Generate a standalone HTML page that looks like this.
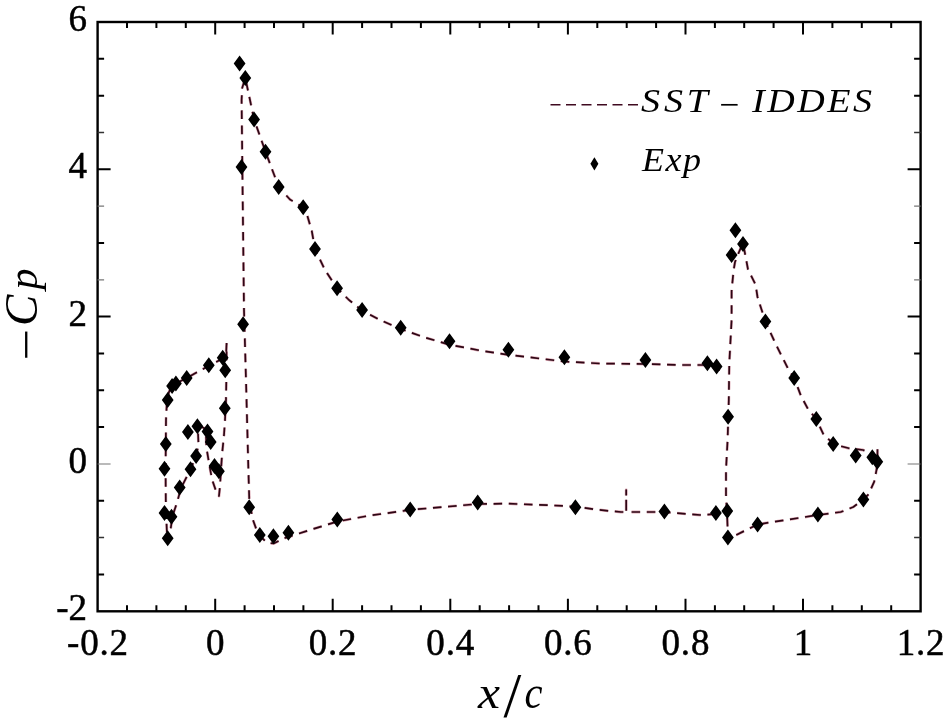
<!DOCTYPE html>
<html lang="en"><head><meta charset="utf-8"><title>Cp distribution</title>
<style>
html,body{margin:0;padding:0;background:#fff;}
body{width:949px;height:723px;overflow:hidden;font-family:"Liberation Serif",serif;}
svg{display:block;filter:blur(0.45px);}
.tl{font-family:"Liberation Serif",serif;font-size:37px;fill:#000;stroke:#000;stroke-width:0.5px;}
.it{font-family:"Liberation Serif",serif;font-style:italic;fill:#000;}
</style></head><body>
<svg width="949" height="723" viewBox="0 0 949 723">
<rect width="949" height="723" fill="#fff"/>

<g fill="none" stroke-linejoin="round">
<polyline points="226.6,343.0 226.2,352.0 222.7,358.5 208.8,365.8 186.7,378.0 176.0,383.5 172.0,386.0 169.0,392.0 167.0,400.0 166.0,420.0 165.8,444.0 165.6,470.0 165.8,500.0 166.2,515.0 166.8,530.0 167.7,541.0 170.5,530.0 172.5,516.0 177.2,502.0 181.0,488.0 190.5,469.3 196.1,456.0 198.5,445.0 198.0,432.0 199.0,426.0 204.0,428.0 206.0,436.0 206.5,448.0 208.8,461.7 212.0,479.4 216.0,491.0 219.0,496.0 220.0,486.0 221.0,470.0 222.0,455.0 224.0,435.0 225.0,420.0 226.0,400.0 226.5,370.0 226.6,343.0" stroke="#a8203f" stroke-opacity="0.4" stroke-width="2.8" stroke-dasharray="8.6 6.6"/>
<polyline points="226.6,343.0 226.2,352.0 222.7,358.5 208.8,365.8 186.7,378.0 176.0,383.5 172.0,386.0 169.0,392.0 167.0,400.0 166.0,420.0 165.8,444.0 165.6,470.0 165.8,500.0 166.2,515.0 166.8,530.0 167.7,541.0 170.5,530.0 172.5,516.0 177.2,502.0 181.0,488.0 190.5,469.3 196.1,456.0 198.5,445.0 198.0,432.0 199.0,426.0 204.0,428.0 206.0,436.0 206.5,448.0 208.8,461.7 212.0,479.4 216.0,491.0 219.0,496.0 220.0,486.0 221.0,470.0 222.0,455.0 224.0,435.0 225.0,420.0 226.0,400.0 226.5,370.0 226.6,343.0" stroke="#2c0614" stroke-width="1.7" stroke-dasharray="8.6 6.6"/>
<polyline points="716.0,514.0 700.0,515.0 664.0,512.0 626.2,512.0 626.2,490.0 626.2,512.0 621.0,512.0 599.0,509.9 575.0,506.5 550.0,505.3 508.0,503.6 477.7,504.0 449.0,506.5 410.0,509.9 400.0,511.4 370.0,515.5 337.3,521.5 310.0,530.0 283.8,538.4 273.7,543.5 267.0,542.6 262.0,538.0 256.9,530.8 252.6,519.0 249.3,500.0 248.4,470.0 246.0,380.0 244.0,310.0 242.6,190.0 241.6,100.0 242.2,88.0 245.3,78.0 250.0,100.0 254.1,119.6 265.5,151.7 278.7,187.1 290.0,199.5 303.2,207.3 307.4,216.0 311.8,231.0 315.0,249.0 325.0,270.0 337.1,288.2 349.0,300.0 362.1,310.5 380.0,320.0 400.7,329.0 425.0,337.5 449.5,344.7 480.0,350.5 508.4,354.8 564.4,361.5 600.0,363.5 645.0,364.0 680.0,365.0 707.0,365.0 720.0,370.0" stroke="#a8203f" stroke-opacity="0.4" stroke-width="2.8" stroke-dasharray="8.6 6.6"/>
<polyline points="716.0,514.0 700.0,515.0 664.0,512.0 626.2,512.0 626.2,490.0 626.2,512.0 621.0,512.0 599.0,509.9 575.0,506.5 550.0,505.3 508.0,503.6 477.7,504.0 449.0,506.5 410.0,509.9 400.0,511.4 370.0,515.5 337.3,521.5 310.0,530.0 283.8,538.4 273.7,543.5 267.0,542.6 262.0,538.0 256.9,530.8 252.6,519.0 249.3,500.0 248.4,470.0 246.0,380.0 244.0,310.0 242.6,190.0 241.6,100.0 242.2,88.0 245.3,78.0 250.0,100.0 254.1,119.6 265.5,151.7 278.7,187.1 290.0,199.5 303.2,207.3 307.4,216.0 311.8,231.0 315.0,249.0 325.0,270.0 337.1,288.2 349.0,300.0 362.1,310.5 380.0,320.0 400.7,329.0 425.0,337.5 449.5,344.7 480.0,350.5 508.4,354.8 564.4,361.5 600.0,363.5 645.0,364.0 680.0,365.0 707.0,365.0 720.0,370.0" stroke="#2c0614" stroke-width="1.7" stroke-dasharray="8.6 6.6"/>
<polyline points="757.6,524.4 728.0,539.0 727.3,520.0 726.0,495.0 726.0,470.0 727.6,440.0 728.8,400.0 729.3,363.0 730.0,350.0 731.6,320.0 731.6,291.0 733.5,271.0 735.0,262.0 739.0,252.0 743.0,243.0 748.0,269.4 755.6,284.6 757.5,297.0 765.4,321.6 775.9,344.4 788.5,369.6 794.2,378.0 801.0,396.0 808.0,409.0 816.3,419.0 824.0,435.5 833.0,443.0 840.0,446.0 849.0,448.3 863.0,450.0 869.0,452.5 874.0,457.0 877.4,462.0 877.5,446.5 877.4,462.0 876.5,470.0 874.2,481.7 868.5,494.4 863.4,499.4 853.3,507.0 840.7,512.0 818.0,515.0 780.0,520.9 757.6,524.4" stroke="#a8203f" stroke-opacity="0.4" stroke-width="2.8" stroke-dasharray="8.6 6.6"/>
<polyline points="757.6,524.4 728.0,539.0 727.3,520.0 726.0,495.0 726.0,470.0 727.6,440.0 728.8,400.0 729.3,363.0 730.0,350.0 731.6,320.0 731.6,291.0 733.5,271.0 735.0,262.0 739.0,252.0 743.0,243.0 748.0,269.4 755.6,284.6 757.5,297.0 765.4,321.6 775.9,344.4 788.5,369.6 794.2,378.0 801.0,396.0 808.0,409.0 816.3,419.0 824.0,435.5 833.0,443.0 840.0,446.0 849.0,448.3 863.0,450.0 869.0,452.5 874.0,457.0 877.4,462.0 877.5,446.5 877.4,462.0 876.5,470.0 874.2,481.7 868.5,494.4 863.4,499.4 853.3,507.0 840.7,512.0 818.0,515.0 780.0,520.9 757.6,524.4" stroke="#2c0614" stroke-width="1.7" stroke-dasharray="8.6 6.6"/>
</g>
<rect x="97.6" y="22.0" width="823.0" height="589.3" fill="none" stroke="#000" stroke-width="2.4"/>
<path d="M127.0 611.3v-6M127.0 22.0v6M156.4 611.3v-6M156.4 22.0v6M185.8 611.3v-6M185.8 22.0v6M215.2 611.3v-12.5M215.2 22.0v12.5M244.6 611.3v-6M244.6 22.0v6M274.0 611.3v-6M274.0 22.0v6M303.4 611.3v-6M303.4 22.0v6M332.7 611.3v-12.5M332.7 22.0v12.5M362.1 611.3v-6M362.1 22.0v6M391.5 611.3v-6M391.5 22.0v6M420.9 611.3v-6M420.9 22.0v6M450.3 611.3v-12.5M450.3 22.0v12.5M479.7 611.3v-6M479.7 22.0v6M509.1 611.3v-6M509.1 22.0v6M538.5 611.3v-6M538.5 22.0v6M567.9 611.3v-12.5M567.9 22.0v12.5M597.3 611.3v-6M597.3 22.0v6M626.7 611.3v-6M626.7 22.0v6M656.1 611.3v-6M656.1 22.0v6M685.5 611.3v-12.5M685.5 22.0v12.5M714.9 611.3v-6M714.9 22.0v6M744.2 611.3v-6M744.2 22.0v6M773.6 611.3v-6M773.6 22.0v6M803.0 611.3v-12.5M803.0 22.0v12.5M832.4 611.3v-6M832.4 22.0v6M861.8 611.3v-6M861.8 22.0v6M891.2 611.3v-6M891.2 22.0v6M97.6 574.5h6.5M920.6 574.5h-6.5M97.6 500.8h6.5M920.6 500.8h-6.5M97.6 427.1h6.5M920.6 427.1h-6.5M97.6 390.3h6.5M920.6 390.3h-6.5M97.6 353.5h6.5M920.6 353.5h-6.5M97.6 316.6h13M920.6 316.6h-13M97.6 243.0h6.5M920.6 243.0h-6.5M97.6 169.3h13M920.6 169.3h-13M97.6 95.7h6.5M920.6 95.7h-6.5M97.6 58.8h6.5M920.6 58.8h-6.5" stroke="#000" stroke-width="2" fill="none"/>
<path d="M97.6 537.6h6.5M920.6 537.6h-6.5" stroke="#333" stroke-width="1.5" fill="none"/>
<path d="M97.6 464.0h13M920.6 464.0h-13" stroke="#777" stroke-width="1.2" fill="none"/>
<path d="M97.6 279.8h6.5M920.6 279.8h-6.5" stroke="#777" stroke-width="1.2" fill="none"/>
<path d="M97.6 206.2h6.5M920.6 206.2h-6.5" stroke="#777" stroke-width="1.2" fill="none"/>
<path d="M97.6 132.5h6.5M920.6 132.5h-6.5" stroke="#333" stroke-width="1.5" fill="none"/>
<text class="tl" x="98.0" y="655" text-anchor="middle" letter-spacing="0.8">-0.2</text>
<text class="tl" x="215.2" y="655" text-anchor="middle">0</text>
<text class="tl" x="333.1" y="655" text-anchor="middle" letter-spacing="0.8">0.2</text>
<text class="tl" x="450.7" y="655" text-anchor="middle" letter-spacing="0.8">0.4</text>
<text class="tl" x="568.3" y="655" text-anchor="middle" letter-spacing="0.8">0.6</text>
<text class="tl" x="685.9" y="655" text-anchor="middle" letter-spacing="0.8">0.8</text>
<text class="tl" x="803.0" y="655" text-anchor="middle">1</text>
<text class="tl" x="921.0" y="655" text-anchor="middle" letter-spacing="0.8">1.2</text>
<text class="tl" x="87" y="620.3" text-anchor="end">-2</text>
<text class="tl" x="87" y="473.0" text-anchor="end">0</text>
<text class="tl" x="87" y="325.6" text-anchor="end">2</text>
<text class="tl" x="87" y="178.3" text-anchor="end">4</text>
<text class="tl" x="87" y="31.0" text-anchor="end">6</text>
<text class="it" y="708"><tspan font-size="47" x="478" textLength="22" lengthAdjust="spacingAndGlyphs">x</tspan><tspan font-size="64" font-style="normal" x="503.5" y="716.5">/</tspan><tspan font-size="47" x="524.5" y="708" textLength="18" lengthAdjust="spacingAndGlyphs">c</tspan></text>
<text class="it" font-size="47" transform="translate(41.5,364) rotate(-90)" textLength="38" lengthAdjust="spacingAndGlyphs">−</text>
<text class="it" font-size="47" transform="translate(37,326) rotate(-90)">C</text>
<text class="it" font-size="42" transform="translate(37,289.5) rotate(-90)">p</text>
<path d="M550.5 104.8H638" stroke="#3f0a20" stroke-width="1.6" stroke-dasharray="10 5.5" fill="none"/>
<text class="it" font-size="34" transform="translate(641,112) scale(1.12,1)" textLength="59.8" lengthAdjust="spacing">SST</text>
<text class="it" font-size="34" x="717" y="116" textLength="24" lengthAdjust="spacingAndGlyphs">−</text>
<text class="it" font-size="34" transform="translate(752,112) scale(1.12,1)" textLength="107.1" lengthAdjust="spacing">IDDES</text>
<path d="M594.4 157.2l4 6.6l-4 6.6l-4-6.6z" fill="#000"/>
<text class="it" font-size="34" transform="translate(642,171) scale(1.06,1)" textLength="55.7" lengthAdjust="spacing">Exp</text>
<path d="M167.7 392.0l5.9 8.0l-5.9 8.0l-5.9 -8.0zM172.1 378.1l5.9 8.0l-5.9 8.0l-5.9 -8.0zM175.9 375.6l5.9 8.0l-5.9 8.0l-5.9 -8.0zM186.7 369.9l5.9 8.0l-5.9 8.0l-5.9 -8.0zM208.8 357.3l5.9 8.0l-5.9 8.0l-5.9 -8.0zM222.7 349.7l5.9 8.0l-5.9 8.0l-5.9 -8.0zM225.2 362.3l5.9 8.0l-5.9 8.0l-5.9 -8.0zM224.8 400.3l5.9 8.0l-5.9 8.0l-5.9 -8.0zM165.8 436.0l5.9 8.0l-5.9 8.0l-5.9 -8.0zM164.5 460.7l5.9 8.0l-5.9 8.0l-5.9 -8.0zM187.9 424.0l5.9 8.0l-5.9 8.0l-5.9 -8.0zM197.4 418.3l5.9 8.0l-5.9 8.0l-5.9 -8.0zM207.5 423.4l5.9 8.0l-5.9 8.0l-5.9 -8.0zM210.7 434.1l5.9 8.0l-5.9 8.0l-5.9 -8.0zM196.1 448.0l5.9 8.0l-5.9 8.0l-5.9 -8.0zM190.5 461.3l5.9 8.0l-5.9 8.0l-5.9 -8.0zM179.7 479.6l5.9 8.0l-5.9 8.0l-5.9 -8.0zM214.5 458.1l5.9 8.0l-5.9 8.0l-5.9 -8.0zM218.9 463.2l5.9 8.0l-5.9 8.0l-5.9 -8.0zM164.5 504.9l5.9 8.0l-5.9 8.0l-5.9 -8.0zM171.5 508.7l5.9 8.0l-5.9 8.0l-5.9 -8.0zM167.7 530.2l5.9 8.0l-5.9 8.0l-5.9 -8.0zM239.6 55.4l5.9 8.0l-5.9 8.0l-5.9 -8.0zM245.3 69.9l5.9 8.0l-5.9 8.0l-5.9 -8.0zM254.1 111.6l5.9 8.0l-5.9 8.0l-5.9 -8.0zM265.5 143.7l5.9 8.0l-5.9 8.0l-5.9 -8.0zM241.5 158.9l5.9 8.0l-5.9 8.0l-5.9 -8.0zM278.7 179.1l5.9 8.0l-5.9 8.0l-5.9 -8.0zM303.2 199.3l5.9 8.0l-5.9 8.0l-5.9 -8.0zM315.0 241.0l5.9 8.0l-5.9 8.0l-5.9 -8.0zM337.1 280.2l5.9 8.0l-5.9 8.0l-5.9 -8.0zM362.1 302.1l5.9 8.0l-5.9 8.0l-5.9 -8.0zM400.7 319.8l5.9 8.0l-5.9 8.0l-5.9 -8.0zM449.5 333.3l5.9 8.0l-5.9 8.0l-5.9 -8.0zM508.4 341.7l5.9 8.0l-5.9 8.0l-5.9 -8.0zM564.4 349.3l5.9 8.0l-5.9 8.0l-5.9 -8.0zM645.4 351.9l5.9 8.0l-5.9 8.0l-5.9 -8.0zM707.4 355.2l5.9 8.0l-5.9 8.0l-5.9 -8.0zM716.6 358.6l5.9 8.0l-5.9 8.0l-5.9 -8.0zM243.1 316.2l5.9 8.0l-5.9 8.0l-5.9 -8.0zM249.2 499.2l5.9 8.0l-5.9 8.0l-5.9 -8.0zM259.8 527.0l5.9 8.0l-5.9 8.0l-5.9 -8.0zM273.4 528.2l5.9 8.0l-5.9 8.0l-5.9 -8.0zM288.4 524.8l5.9 8.0l-5.9 8.0l-5.9 -8.0zM337.3 511.4l5.9 8.0l-5.9 8.0l-5.9 -8.0zM410.2 501.5l5.9 8.0l-5.9 8.0l-5.9 -8.0zM477.7 494.6l5.9 8.0l-5.9 8.0l-5.9 -8.0zM575.4 499.3l5.9 8.0l-5.9 8.0l-5.9 -8.0zM664.4 503.5l5.9 8.0l-5.9 8.0l-5.9 -8.0zM715.9 505.0l5.9 8.0l-5.9 8.0l-5.9 -8.0zM735.4 222.2l5.9 8.0l-5.9 8.0l-5.9 -8.0zM743.0 236.1l5.9 8.0l-5.9 8.0l-5.9 -8.0zM731.6 246.9l5.9 8.0l-5.9 8.0l-5.9 -8.0zM765.4 313.6l5.9 8.0l-5.9 8.0l-5.9 -8.0zM794.2 370.0l5.9 8.0l-5.9 8.0l-5.9 -8.0zM816.3 411.0l5.9 8.0l-5.9 8.0l-5.9 -8.0zM833.2 435.9l5.9 8.0l-5.9 8.0l-5.9 -8.0zM855.7 447.4l5.9 8.0l-5.9 8.0l-5.9 -8.0zM872.3 449.3l5.9 8.0l-5.9 8.0l-5.9 -8.0zM877.3 453.8l5.9 8.0l-5.9 8.0l-5.9 -8.0zM728.1 408.8l5.9 8.0l-5.9 8.0l-5.9 -8.0zM727.3 503.1l5.9 8.0l-5.9 8.0l-5.9 -8.0zM727.9 529.6l5.9 8.0l-5.9 8.0l-5.9 -8.0zM757.6 516.4l5.9 8.0l-5.9 8.0l-5.9 -8.0zM817.9 506.6l5.9 8.0l-5.9 8.0l-5.9 -8.0zM863.4 491.4l5.9 8.0l-5.9 8.0l-5.9 -8.0z" fill="#000"/>
</svg></body></html>
